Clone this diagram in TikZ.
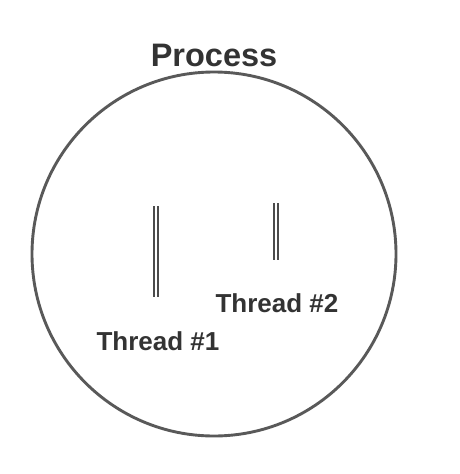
\documentclass[tikz,border=0pt]{standalone}
\usepackage{fontspec}
\setmainfont{Liberation Sans}
\begin{document}
\begin{tikzpicture}[x=1pt,y=-1pt,
  lbl/.style={font=\bfseries\fontsize{26}{29}\selectfont, text=black!80, inner sep=0pt},
  thr/.style={draw=black!70, line width=2pt}]
\useasboundingbox (0,0) rectangle (460,474);
\node[circle, draw=black!65, line width=2.9pt, minimum size=364pt, inner sep=0pt] (proc) at (214,254) {};
\node[lbl, font=\bfseries\fontsize{32.5}{35}\selectfont] (title) at (214,55) {Process};
\coordinate (t1a) at (153.5,206);
\coordinate (t1b) at (153.5,297);
\coordinate (t1c) at (157.5,206);
\coordinate (t1d) at (157.5,297);
\draw[thr] (t1a) -- (t1b);
\draw[thr] (t1c) -- (t1d);
\coordinate (t2a) at (274,203);
\coordinate (t2b) at (274,260);
\coordinate (t2c) at (278,203);
\coordinate (t2d) at (278,260);
\draw[thr] (t2a) -- (t2b);
\draw[thr] (t2c) -- (t2d);
\node[lbl] (l2) at (277,303) {Thread \#2};
\node[lbl] (l1) at (158,341) {Thread \#1};
\end{tikzpicture}
\end{document}
